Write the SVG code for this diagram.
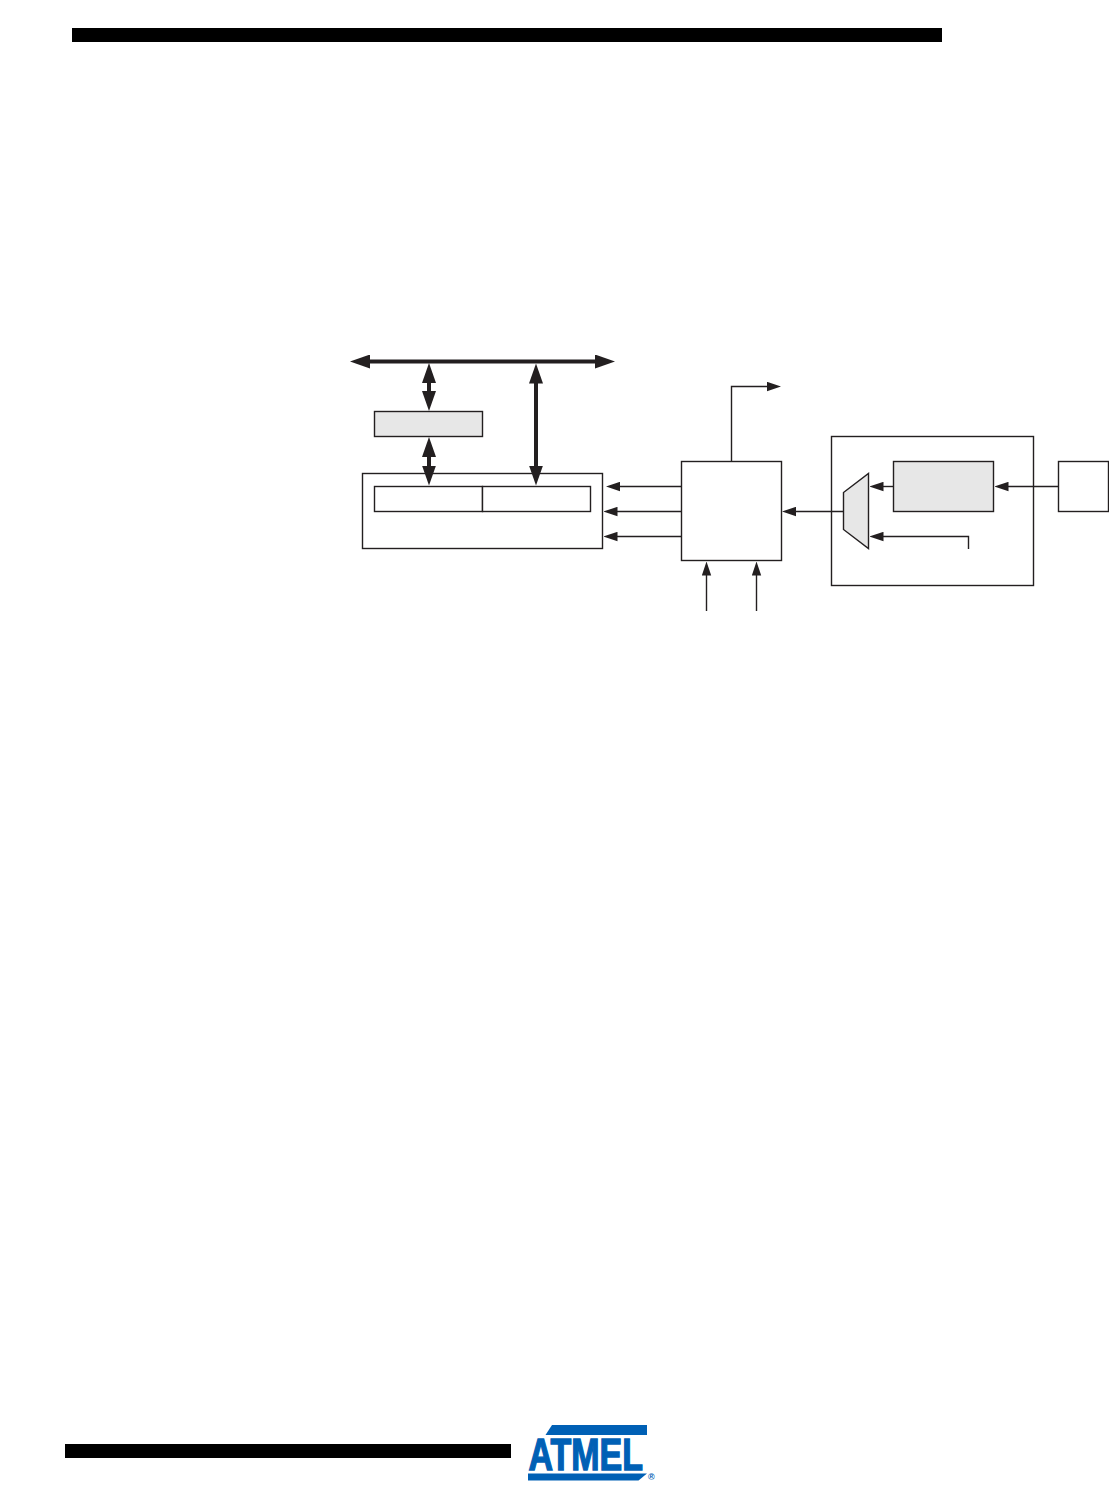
<svg xmlns="http://www.w3.org/2000/svg" width="1109" height="1487" viewBox="0 0 1109 1487">
<style>
.box{fill:#fff;stroke:#231f20;stroke-width:1.4}
.gray{fill:#e7e7e7;stroke:#231f20;stroke-width:1.4}
.thin{fill:none;stroke:#231f20;stroke-width:1.4;marker-end:url(#headThin)}
.thick{fill:none;stroke:#231f20;stroke-width:4;marker-start:url(#headThick);marker-end:url(#headThick)}
.bar{fill:#000}
.logo{fill:#0060b5}
</style>
<defs>
<marker id="headThin" markerUnits="userSpaceOnUse" markerWidth="14" markerHeight="10" refX="7" refY="5" orient="auto"><path d="M0 .3L14 5L0 9.7z" fill="#231f20"/></marker>
<marker id="headThick" markerUnits="userSpaceOnUse" markerWidth="20" markerHeight="14" refX="10" refY="7" orient="auto-start-reverse"><path d="M0 0L20 7L0 14z" fill="#231f20"/></marker>
</defs>
<rect id="header-bar" class="bar" x="72" y="28" width="870" height="14"/>
<rect id="footer-bar" class="bar" x="65" y="1444" width="446" height="14"/>
<g id="container-left"><rect class="box" x="362.5" y="473.5" width="240" height="75"/></g>
<g id="reg-low"><rect class="box" x="374.5" y="486.5" width="108" height="25"/></g>
<g id="reg-high"><rect class="box" x="482.5" y="486.5" width="108" height="25"/></g>
<g id="buffer"><rect class="gray" x="374.5" y="411.5" width="108" height="25"/></g>
<g id="control"><rect class="box" x="681.5" y="461.5" width="100" height="99"/></g>
<g id="clock-container"><rect class="box" x="831.5" y="436.5" width="202" height="149"/></g>
<g id="mux"><polygon class="gray" points="843.5,492.5 868.5,473.5 868.5,548.5 843.5,529.5"/></g>
<g id="prescaler"><rect class="gray" x="893.5" y="461.5" width="100" height="50"/></g>
<g id="source"><rect class="box" x="1058.5" y="461.5" width="50" height="50"/></g>
<g id="connectors">
<line class="thick" x1="360" y1="361.5" x2="605" y2="361.5"/>
<line class="thick" x1="429" y1="373" x2="429" y2="401"/>
<line class="thick" x1="429" y1="447" x2="429" y2="475.5"/>
<line class="thick" x1="536" y1="373.5" x2="536" y2="475.5"/>
<path class="thin" d="M681 486.5H613"/>
<path class="thin" d="M681 511.5H610.5"/>
<path class="thin" d="M681 536.5H610.5"/>
<path class="thin" d="M731.5 461V386.5H774"/>
<path class="thin" d="M843.5 511.5H789"/>
<path class="thin" d="M893 486.5H876.5"/>
<path class="thin" d="M1058 486.5H1001.5"/>
<path class="thin" d="M968.5 549V536.5H876.5"/>
<path class="thin" d="M706.5 611V568.5"/>
<path class="thin" d="M756.5 611V568.5"/>
</g>
<g id="logo">
<polygon class="logo" points="552,1425 647,1425 647,1435 545.5,1435"/>
<text class="logo" transform="translate(528.5 1469.5) scale(.772 1)" font-family="'Liberation Sans',Arial,sans-serif" font-weight="700" font-size="44" stroke="#0060b5" stroke-width="1.4">ATMEL</text>
<polygon class="logo" points="528,1473.5 647,1473.5 638.5,1480.5 528,1480.5"/>
<text class="logo" x="648" y="1480" font-family="'Liberation Sans',Arial,sans-serif" font-weight="700" font-size="9">®</text>
</g>
</svg>
